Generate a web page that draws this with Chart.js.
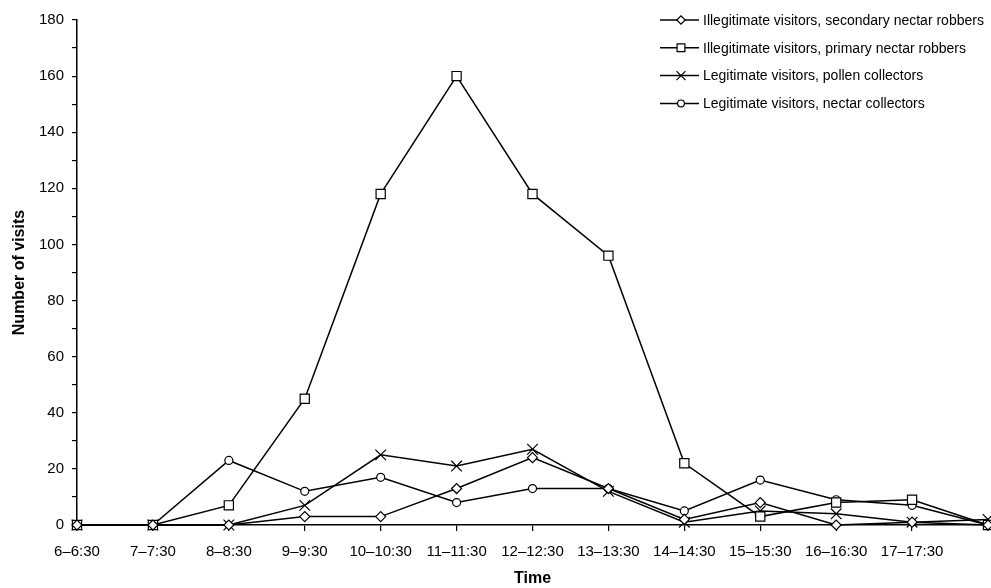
<!DOCTYPE html>
<html>
<head>
<meta charset="utf-8">
<script src="https://cdn.jsdelivr.net/npm/chart.js@4/dist/chart.umd.min.js"></script>
<style>
  html, body { margin: 0; padding: 0; background: #fff; }
  #wrap { width: 991px; height: 588px; }
</style>
</head>
<body>
<div id="wrap"><canvas id="visitsChart" width="991" height="588"></canvas></div>
<script>
// time slots (last one has no label in the original)
const categories = ['6\u20136:30', '7\u20137:30', '8\u20138:30', '9\u20139:30', '10\u201310:30', '11\u201311:30',
  '12\u201312:30', '13\u201313:30', '14\u201314:30', '15\u201315:30', '16\u201316:30', '17\u201317:30', ''];

// number of visits per slot
const secondaryRobbers = [0, 0, 0, 3, 3, 13, 24, 13, 2, 8, 0, 1, 0];
const primaryRobbers   = [0, 0, 7, 45, 118, 160, 118, 96, 22, 3, 8, 9, 0];
const pollenCollectors = [0, 0, 0, 7, 25, 21, 27, 12, 1, 5, 4, 1, 2];
const nectarCollectors = [0, 0, 23, 12, 17, 8, 13, 13, 5, 16, 9, 7, 0];

const seriesNames = [
  'Illegitimate visitors, secondary nectar robbers',
  'Illegitimate visitors, primary nectar robbers',
  'Legitimate visitors, pollen collectors',
  'Legitimate visitors, nectar collectors'
];

const yTicks = { min: 0, max: 180, step: 10, labelEvery: 20 };

const FONT = '"Liberation Sans", Arial, sans-serif';

// small helper so every series looks the same apart from its marker
function series(label, data, style, radius) {
  return {
    label: label,
    data: data,
    borderColor: '#000',
    borderWidth: 1.5,
    pointStyle: style,
    pointRadius: radius,
    pointHoverRadius: radius,
    pointBackgroundColor: '#fff',
    pointBorderColor: '#000',
    pointBorderWidth: 1.2,
    tension: 0,
    clip: false
  };
}

// legend drawn inside the plot area, top right, line + marker like the original
const insideLegend = {
  id: 'insideLegend',
  afterDraw(chart) {
    const ctx = chart.ctx;
    const area = chart.chartArea;
    const x0 = area.right - 328;
    ctx.save();
    chart.data.datasets.forEach((ds, i) => {
      const y = area.top + i * 27.8;
      ctx.strokeStyle = '#000';
      ctx.lineWidth = 1.5;
      ctx.beginPath();
      ctx.moveTo(x0, y);
      ctx.lineTo(x0 + 39, y);
      ctx.stroke();
      ctx.fillStyle = '#fff';
      ctx.lineWidth = 1.2;
      Chart.helpers.drawPoint(ctx, { pointStyle: ds.pointStyle, radius: ds.pointRadius * 0.85, borderWidth: 1.2 }, x0 + 21, y);
      ctx.fillStyle = '#000';
      ctx.font = '14px ' + FONT;
      ctx.textBaseline = 'middle';
      ctx.textAlign = 'left';
      ctx.fillText(ds.label, x0 + 43, y + 1);
    });
    ctx.restore();
  }
};

let canvas = document.querySelector('#visitsChart');
let context = canvas.getContext('2d');

let visitsChart = new Chart(context, {
  type: 'line',
  data: {
    labels: categories,
    datasets: [
      series(seriesNames[0], secondaryRobbers, 'rectRot', 5),
      series(seriesNames[1], primaryRobbers, 'rect', 6.5),
      series(seriesNames[2], pollenCollectors, 'crossRot', 7.5),
      series(seriesNames[3], nectarCollectors, 'circle', 4)
    ]
  },
  options: {
    responsive: false,
    animation: false,
    layout: { autoPadding: false, padding: { top: 20, right: 3, left: 0, bottom: 0 } },
    plugins: {
      legend: { display: false },
      tooltip: { enabled: false }
    },
    scales: {
      x: {
        type: 'category',
        offset: false,
        grid: {
          drawOnChartArea: false,
          drawTicks: true,
          tickLength: 6,
          color: '#000',
          lineWidth: 1.2
        },
        border: { color: '#000', width: 1.5 },
        ticks: {
          autoSkip: false,
          maxRotation: 0,
          padding: 12,
          color: '#000',
          font: { family: FONT, size: 15 }
        },
        title: {
          display: true,
          text: 'Time',
          color: '#000',
          padding: { top: 0, bottom: 0 },
          font: { family: FONT, size: 16, weight: 'bold' }
        },
        afterFit(scale) {
          scale.height = 63;
          // the label padding would otherwise shrink the plot on the right
          scale.paddingLeft = 0;
          scale.paddingRight = 0;
        }
      },
      y: {
        min: yTicks.min,
        max: yTicks.max,
        grid: {
          drawOnChartArea: false,
          drawTicks: true,
          tickLength: 5,
          color: '#000',
          lineWidth: 1.2
        },
        border: { color: '#000', width: 1.5 },
        ticks: {
          stepSize: yTicks.step,
          autoSkip: false,
          padding: 8,
          color: '#000',
          font: { family: FONT, size: 15 },
          callback: (v) => (v % yTicks.labelEvery === 0 ? v : '')
        },
        title: {
          display: true,
          text: 'Number of visits',
          color: '#000',
          padding: { top: 10, bottom: 0 },
          font: { family: FONT, size: 16, weight: 'bold' }
        },
        afterFit(scale) { scale.width = 77; }
      }
    }
  },
  plugins: [insideLegend]
});
</script>
</body>
</html>
